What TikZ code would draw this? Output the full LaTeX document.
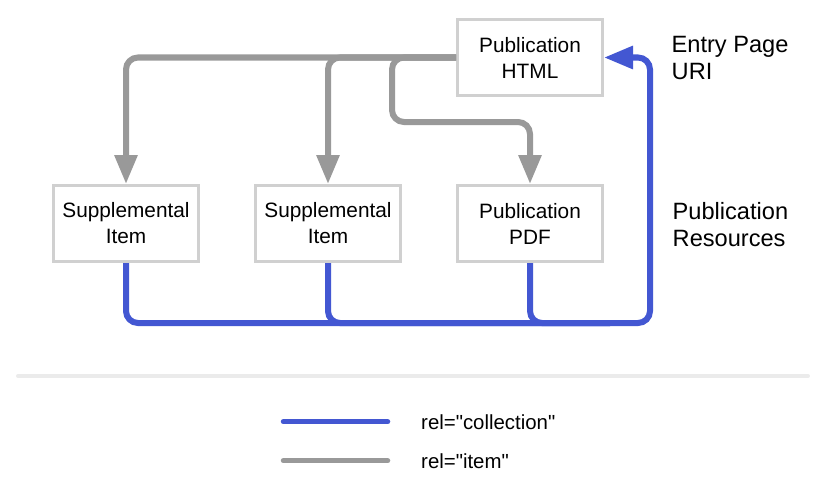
\documentclass[tikz,border=0pt]{standalone}
\usepackage{fontspec}
\setmainfont{Liberation Sans}
\usetikzlibrary{arrows.meta,positioning,calc}

\definecolor{relblue}{RGB}{67,87,210}
\definecolor{relgray}{RGB}{153,153,153}
\definecolor{boxgray}{RGB}{208,208,208}
\definecolor{rulegray}{RGB}{235,235,235}

\begin{document}
\begin{tikzpicture}[x=1pt, y=-1pt,
    resource/.style={draw=boxgray, line width=3pt, fill=white, minimum width=145pt, minimum height=76pt, inner sep=0pt, align=center, font=\fontsize{20.8}{26}\selectfont},
    item/.style={draw=relgray, line width=6pt, rounded corners=12pt, -{Triangle[length=29pt,width=22pt]}},
    collection/.style={draw=relblue, line width=6pt, rounded corners=12pt},
    sidelabel/.style={anchor=north west, align=left, inner sep=0pt, font=\fontsize{23.6}{27}\selectfont},
    keylabel/.style={anchor=base west, inner sep=0pt, font=\fontsize{20.4}{24}\selectfont}]
    \useasboundingbox (0,0) rectangle (826,487);

    \node (supA) [resource] at (126,223.5) {Supplemental\\Item};
    \node (supB) [resource, right=54pt of supA] {Supplemental\\Item};
    \node (pdf) [resource, right=54pt of supB] {Publication\\PDF};
    \node (html) [resource, above=87pt of pdf] {Publication\\HTML};

    \coordinate (pdfbend) at (392,122);
    \coordinate (rescorner) at (650,323);
    \coordinate (busend) at (610,323);

    % rel="item"
    \draw [item] (html.west) -| (supA.north);
    \draw [item] (html.west) -| (supB.north);
    \draw [item] (html.west) -| (pdfbend) -| (pdf.north);

    % rel="collection"
    \draw [collection] (supB.south) |- (busend);
    \draw [collection] (pdf.south) |- (busend);
    \draw [collection, -{Triangle[length=29pt,width=22pt]}] (supA.south) |- (rescorner) |- (html.east);

    \node (entry) [sidelabel] at (671.5,36) {Entry Page\\URI};
    \node (resources) [sidelabel] at (672.5,202.5) {Publication\\Resources};

    % legend
    \coordinate (sepleft) at (18,376);
    \coordinate (sepright) at (808,376);
    \draw [rulegray, line width=4pt, line cap=round] (sepleft) -- (sepright);

    \node (collkey) [keylabel] at (421,429) {rel=\textquotedbl collection\textquotedbl};
    \node (itemkey) [keylabel] at (421,468) {rel=\textquotedbl item\textquotedbl};
    \coordinate (collstart) at (283.5,421.7);
    \coordinate (itemstart) at (283.5,460.7);
    \draw [relblue, line width=5.5pt, line cap=round] (collstart) -- ++(104,0);
    \draw [relgray, line width=5.5pt, line cap=round] (itemstart) -- ++(104,0);
\end{tikzpicture}
\end{document}
